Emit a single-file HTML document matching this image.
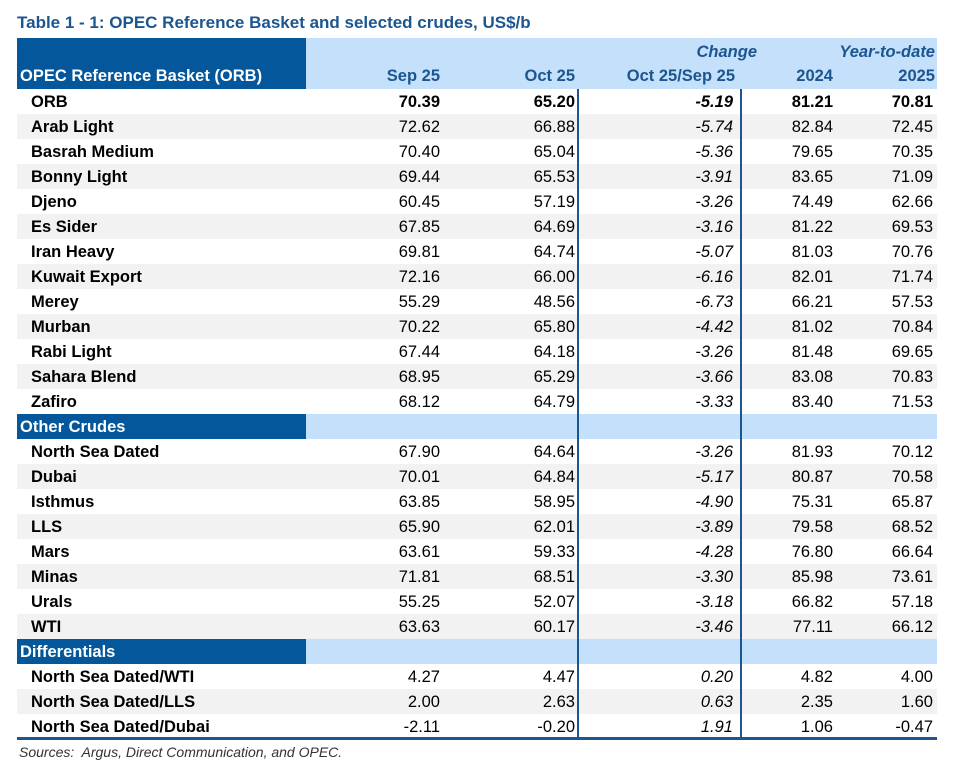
<!DOCTYPE html>
<html><head><meta charset="utf-8"><style>
body{margin:0;background:#fff;font-family:"Liberation Sans",Arial,sans-serif;width:961px;height:777px;position:relative;overflow:hidden}
.t{position:absolute;left:17px;top:13px;font-size:17px;font-weight:bold;color:#1b5690}
.r{position:absolute;left:17px;width:920px;height:25px;font-size:16.5px;color:#000}
.r span{position:absolute;top:4px;white-space:nowrap}
.g{background:#f2f2f2}
.n{left:14px;font-weight:bold}
.c1{right:497px}.c2{right:362px}.c3{right:204px;font-style:italic}.c4{right:104px}.c5{right:4px}
.sec{background:#c5e0fb}
.sec .d{position:absolute;left:0;top:0;width:289px;height:25px;background:#03579a}
.sec span{left:3px;color:#fff;font-weight:bold}
.vl{position:absolute;top:89px;height:650px;width:2px;background:#1b5690}
.b{font-weight:bold}
</style></head><body>
<div class="t">Table 1 - 1: OPEC Reference Basket and selected crudes, US$/b</div>
<div style="position:absolute;left:17px;top:38px;width:920px;height:51px;background:#c5e0fb"></div>
<div style="position:absolute;left:17px;top:38px;width:289px;height:51px;background:#03579a"></div>
<div style="position:absolute;left:20px;top:67px;color:#fff;font-weight:bold;font-size:16.5px">OPEC Reference Basket (ORB)</div>
<div style="position:absolute;top:43px;right:204px;color:#1b5690;font-weight:bold;font-style:italic;font-size:16.5px">Change</div>
<div style="position:absolute;top:43px;right:26px;color:#1b5690;font-weight:bold;font-style:italic;font-size:16.5px">Year-to-date</div>
<div style="position:absolute;top:67px;left:17px;width:920px;color:#1b5690;font-weight:bold;font-size:16.5px">
<span style="position:absolute;right:497px">Sep 25</span><span style="position:absolute;right:362px">Oct 25</span><span style="position:absolute;right:202px">Oct 25/Sep 25</span><span style="position:absolute;right:104px">2024</span><span style="position:absolute;right:2px">2025</span></div>
<div id="rows"></div>
<div style="position:absolute;left:17px;top:737px;width:920px;height:3px;background:#1b5690"></div>
<div class="vl" style="left:577px"></div><div class="vl" style="left:740px"></div>
<div style="position:absolute;left:19px;top:744px;font-size:14px;font-style:italic;color:#333">Sources:&nbsp; Argus, Direct Communication, and OPEC.</div>
<script>
const data=[
["ORB","70.39","65.20","-5.19","81.21","70.81",1],
["Arab Light","72.62","66.88","-5.74","82.84","72.45"],
["Basrah Medium","70.40","65.04","-5.36","79.65","70.35"],
["Bonny Light","69.44","65.53","-3.91","83.65","71.09"],
["Djeno","60.45","57.19","-3.26","74.49","62.66"],
["Es Sider","67.85","64.69","-3.16","81.22","69.53"],
["Iran Heavy","69.81","64.74","-5.07","81.03","70.76"],
["Kuwait Export","72.16","66.00","-6.16","82.01","71.74"],
["Merey","55.29","48.56","-6.73","66.21","57.53"],
["Murban","70.22","65.80","-4.42","81.02","70.84"],
["Rabi Light","67.44","64.18","-3.26","81.48","69.65"],
["Sahara Blend","68.95","65.29","-3.66","83.08","70.83"],
["Zafiro","68.12","64.79","-3.33","83.40","71.53"],
"Other Crudes",
["North Sea Dated","67.90","64.64","-3.26","81.93","70.12"],
["Dubai","70.01","64.84","-5.17","80.87","70.58"],
["Isthmus","63.85","58.95","-4.90","75.31","65.87"],
["LLS","65.90","62.01","-3.89","79.58","68.52"],
["Mars","63.61","59.33","-4.28","76.80","66.64"],
["Minas","71.81","68.51","-3.30","85.98","73.61"],
["Urals","55.25","52.07","-3.18","66.82","57.18"],
["WTI","63.63","60.17","-3.46","77.11","66.12"],
"Differentials",
["North Sea Dated/WTI","4.27","4.47","0.20","4.82","4.00"],
["North Sea Dated/LLS","2.00","2.63","0.63","2.35","1.60"],
["North Sea Dated/Dubai","-2.11","-0.20","1.91","1.06","-0.47"]];
let h="",y=89,i=0;
for(const d of data){
 if(typeof d==="string"){h+=`<div class="r sec" style="top:${y}px"><div class="d"></div><span>${d}</span></div>`;i=0;}
 else{h+=`<div class="r${i%2?' g':''}${d[6]?' b':''}" style="top:${y}px"><span class="n">${d[0]}</span><span class="c1">${d[1]}</span><span class="c2">${d[2]}</span><span class="c3">${d[3]}</span><span class="c4">${d[4]}</span><span class="c5">${d[5]}</span></div>`;i++;}
 y+=25;
}
document.getElementById("rows").innerHTML=h;
</script>
</body></html>
